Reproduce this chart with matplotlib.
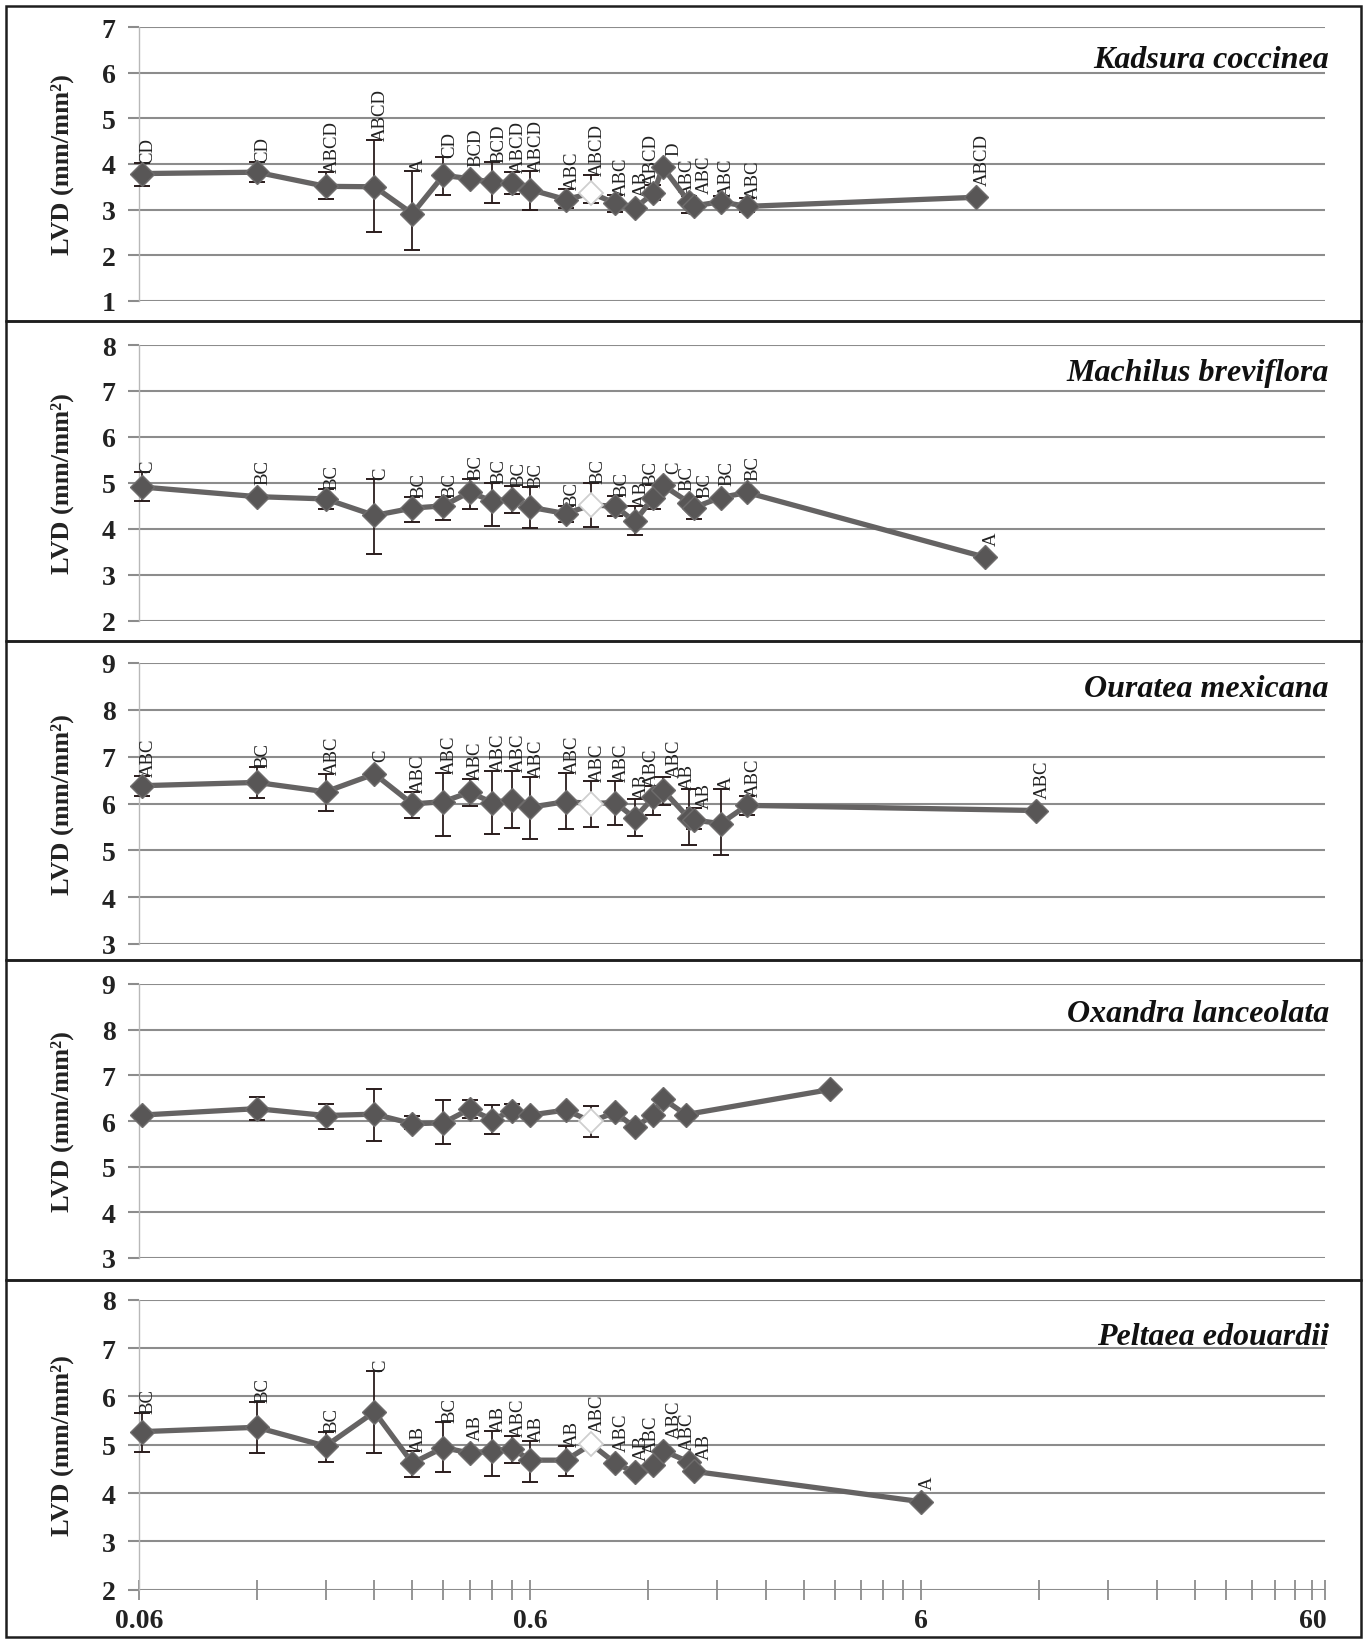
import numpy as np
import matplotlib
matplotlib.use("Agg")
import matplotlib.pyplot as plt
from matplotlib.patches import Rectangle
from matplotlib.ticker import FixedLocator, NullFormatter

W, H = 1364, 1640
nan = np.nan

# ---- data ----
x_kadsura = [0.061, 0.12, 0.18, 0.24, 0.30, 0.36, 0.42, 0.48, 0.54, 0.60, 0.74, 0.86, 0.99, 1.11,
             1.24, 1.31, 1.53, 1.57, 1.84, 2.15, 8.3]
y_kadsura = [3.79, 3.82, 3.51, 3.50, 2.91, 3.75, 3.68, 3.60, 3.59, 3.44, 3.22, 3.36, 3.14, 3.03,
             3.36, 3.93, 3.16, 3.08, 3.17, 3.07, 3.27]
lo_kadsura = [3.51, 3.60, 3.23, 2.50, 2.12, 3.31, nan, 3.14, 3.35, 3.00, 3.04, 3.14, 2.94, nan,
              3.20, nan, 2.93, nan, 3.07, 2.95, nan]
hi_kadsura = [4.02, 4.04, 3.82, 4.53, 3.85, 4.15, nan, 4.05, 3.82, 3.85, 3.45, 3.75, 3.33, nan,
              3.55, nan, 3.30, nan, 3.30, 3.25, nan]
let_kadsura = ["CD", "CD", "ABCD", "ABCD", "A", "CD", "BCD", "BCD", "ABCD", "ABCD", "ABC", "ABCD",
               "ABC", "AB", "ABCD", "D", "ABC", "ABC", "ABC", "ABC", "ABCD"]

x_machilus = [0.061, 0.12, 0.18, 0.24, 0.30, 0.36, 0.42, 0.48, 0.54, 0.60, 0.74, 0.86, 0.99, 1.11,
              1.24, 1.31, 1.53, 1.57, 1.84, 2.15, 8.75]
y_machilus = [4.91, 4.70, 4.65, 4.29, 4.45, 4.50, 4.80, 4.60, 4.65, 4.47, 4.33, 4.52, 4.49, 4.16,
              4.68, 4.95, 4.57, 4.46, 4.68, 4.79, 3.38]
lo_machilus = [4.60, nan, 4.43, 3.46, 4.14, 4.19, 4.43, 4.07, 4.35, 4.01, 4.14, 4.04, 4.28, 3.86,
               4.43, nan, nan, 4.21, nan, nan, nan]
hi_machilus = [5.23, nan, 4.87, 5.08, 4.69, 4.69, 5.08, 5.00, 4.94, 4.90, 4.50, 5.00, 4.72, 4.50,
               4.95, nan, nan, 4.70, nan, nan, nan]
let_machilus = ["C", "BC", "BC", "C", "BC", "BC", "BC", "BC", "BC", "BC", "BC", "BC", "BC", "AB",
                "BC", "C", "BC", "BC", "BC", "BC", "A"]

x_ouratea = [0.061, 0.12, 0.18, 0.24, 0.30, 0.36, 0.42, 0.48, 0.54, 0.60, 0.74, 0.86, 0.99, 1.11,
             1.24, 1.31, 1.53, 1.57, 1.84, 2.15, 11.8]
y_ouratea = [6.38, 6.45, 6.25, 6.63, 5.99, 6.04, 6.24, 6.02, 6.08, 5.92, 6.04, 6.00, 6.02, 5.69,
             6.13, 6.29, 5.68, 5.65, 5.57, 5.96, 5.85]
lo_ouratea = [6.15, 6.11, 5.85, nan, 5.68, 5.30, 5.95, 5.35, 5.47, 5.24, 5.45, 5.49, 5.54, 5.31,
              5.75, 5.96, 5.11, 5.45, 4.90, 5.75, nan]
hi_ouratea = [6.59, 6.77, 6.63, nan, 6.24, 6.65, 6.52, 6.70, 6.70, 6.56, 6.65, 6.47, 6.49, 6.10,
              6.38, 6.56, 6.31, 5.90, 6.31, 6.17, nan]
let_ouratea = ["ABC", "BC", "ABC", "C", "ABC", "ABC", "ABC", "ABC", "ABC", "ABC", "ABC", "ABC",
               "ABC", "AB", "ABC", "ABC", "AB", "AB", "A", "ABC", "ABC"]

x_oxandra = [0.061, 0.12, 0.18, 0.24, 0.30, 0.36, 0.42, 0.48, 0.54, 0.60, 0.74, 0.86, 0.99, 1.11,
             1.24, 1.31, 1.50, 3.51]
y_oxandra = [6.13, 6.27, 6.12, 6.15, 5.94, 5.96, 6.26, 6.03, 6.22, 6.13, 6.24, 5.99, 6.19, 5.86,
             6.14, 6.49, 6.14, 6.69]
lo_oxandra = [nan, 6.03, 5.82, 5.57, 5.82, 5.50, 6.06, 5.72, 6.10, nan, nan, 5.65, nan, nan,
              nan, nan, nan, nan]
hi_oxandra = [nan, 6.52, 6.37, 6.69, 6.10, 6.45, 6.45, 6.34, 6.37, nan, nan, 6.33, nan, nan,
              nan, nan, nan, nan]
let_oxandra = [""] * 18

x_peltaea = [0.061, 0.12, 0.18, 0.24, 0.30, 0.36, 0.42, 0.48, 0.54, 0.60, 0.74, 0.86, 0.99, 1.11,
             1.24, 1.31, 1.53, 1.57, 6.0]
y_peltaea = [5.27, 5.36, 4.97, 5.68, 4.62, 4.94, 4.83, 4.87, 4.92, 4.68, 4.68, 5.01, 4.62, 4.43,
             4.57, 4.88, 4.64, 4.45, 3.82]
lo_peltaea = [4.84, 4.83, 4.65, 4.83, 4.34, 4.43, nan, 4.36, 4.63, 4.23, 4.36, nan, nan, nan,
              nan, nan, nan, nan, nan]
hi_peltaea = [5.66, 5.88, 5.26, 6.53, 4.86, 5.46, nan, 5.29, 5.19, 5.08, 4.98, nan, nan, nan,
              nan, nan, nan, nan, nan]
let_peltaea = ["BC", "BC", "BC", "C", "AB", "BC", "AB", "AB", "ABC", "AB", "AB", "ABC", "ABC", "AB",
               "ABC", "ABC", "ABC", "AB", "A"]

OPEN_IDX = 11  # the hollow diamond in every panel

x_major = [0.06, 0.6, 6, 60]
x_major_labels = ["0.06", "0.6", "6", "60"]
X_MAX = 64.6

# name, x, y, lo, hi, letters, y range, axes top/bottom px, frame top/bottom px, name y px
panels = [
    ("Kadsura coccinea", x_kadsura, y_kadsura, lo_kadsura, hi_kadsura, let_kadsura, (1, 7), (28.3, 301.7), (7, 322), 60),
    ("Machilus breviflora", x_machilus, y_machilus, lo_machilus, hi_machilus, let_machilus, (2, 8), (346, 621.7), (322, 642), 374),
    ("Ouratea mexicana", x_ouratea, y_ouratea, lo_ouratea, hi_ouratea, let_ouratea, (3, 9), (664, 945), (642, 961), 690),
    ("Oxandra lanceolata", x_oxandra, y_oxandra, lo_oxandra, hi_oxandra, let_oxandra, (3, 9), (985, 1259), (961, 1281), 1015),
    ("Peltaea edouardii", x_peltaea, y_peltaea, lo_peltaea, hi_peltaea, let_peltaea, (2, 8), (1300.7, 1590.7), (1281, 1638), 1338),
]

plt.rcParams['font.family'] = ['Liberation Serif', 'DejaVu Serif']
plt.rcParams['font.weight'] = 'bold'

fig = plt.figure(figsize=(W / 100, H / 100), dpi=100)
fig.patch.set_facecolor('white')

grid_col = '#8c8c8c'
line_col = '#656363'
mark_col = '#585656'
err_col = '#2a1c1c'

ax_left, ax_right = 139, 1325
px_per_decade = (ax_right - ax_left) / np.log10(X_MAX / 0.06)

for i, (name, xs, ys, lo, hi, lets, yr, (ytop, ybot), (ftop, fbot), name_y) in enumerate(panels):
    xs = np.array(xs); ys = np.array(ys); lo = np.array(lo); hi = np.array(hi)
    last = i == len(panels) - 1

    # frame around each panel
    fig.add_artist(Rectangle((6 / W, 1 - fbot / H), (1361 - 6) / W, (fbot - ftop) / H,
                             transform=fig.transFigure, fill=False, lw=1.8, ec='#1e1e1e'))

    ax = fig.add_axes([ax_left / W, 1 - ybot / H, (ax_right - ax_left) / W, (ybot - ytop) / H])
    ax.set_xscale('log')
    ax.set_xlim(0.06, X_MAX)
    ax.set_ylim(*yr)
    ax.set_yticks(range(yr[0], yr[1] + 1))
    ax.grid(axis='y', color=grid_col, lw=1.5)
    ax.set_axisbelow(True)
    for s in ['top', 'right', 'bottom']:
        ax.spines[s].set_visible(False)
    ax.spines['left'].set_color('#b8b8b8')
    ax.spines['left'].set_linewidth(1.0)
    ax.tick_params(axis='y', length=8, color=grid_col, width=1.5, labelsize=20, pad=9,
                   labelcolor='#222222')

    if last:
        minors = [b * k for b in (0.06, 0.6, 6) for k in range(2, 10)] + [X_MAX]
        ax.xaxis.set_major_locator(FixedLocator(x_major))
        ax.xaxis.set_minor_locator(FixedLocator(minors))
        ax.set_xticklabels(x_major_labels)
        ax.xaxis.set_minor_formatter(NullFormatter())
        ax.tick_params(axis='x', which='both', direction='inout', length=14, width=1.3,
                       color=grid_col, labelsize=20, pad=6, labelcolor='#222222')
    else:
        ax.tick_params(axis='x', which='both', bottom=False, labelbottom=False)

    m = ~np.isnan(lo)
    ax.errorbar(xs[m], ys[m], yerr=[ys[m] - lo[m], hi[m] - ys[m]], fmt='none', ecolor=err_col,
                elinewidth=1.3, capsize=6, capthick=1.4, zorder=3, clip_on=False)
    ax.plot(xs, ys, color=line_col, lw=3.8, zorder=4, clip_on=False)
    solid = np.arange(len(xs)) != OPEN_IDX
    ax.plot(xs[solid], ys[solid], 'D', ms=12, color=mark_col, mec='#6e6c6c', mew=1,
            zorder=5, clip_on=False)
    ax.plot(xs[OPEN_IDX], ys[OPEN_IDX], 'D', ms=12, mfc='white', mec='#cfcfcf', mew=1.3,
            zorder=5, clip_on=False)

    # letters: when two points sit very close, spread their labels left/right
    xpx = np.log10(xs / 0.06) * px_per_decade
    n = len(xs)
    for k, (xv, yv, hv, t) in enumerate(zip(xs, ys, hi, lets)):
        if not t:
            continue
        dx = 4.5
        if k + 1 < n and xpx[k + 1] - xpx[k] < 12:
            dx = -1.5
        elif k > 0 and xpx[k] - xpx[k - 1] < 12:
            dx = 8
        if np.isnan(hv):
            ax.annotate(t, (xv, yv), xytext=(dx, 9), textcoords='offset points', rotation=90,
                        ha='center', va='bottom', fontsize=13.5, fontweight='normal', color='#222222')
        else:
            ax.annotate(t, (xv, hv), xytext=(dx, 0), textcoords='offset points', rotation=90,
                        ha='center', va='bottom', fontsize=13.5, fontweight='normal', color='#222222')

    fig.text(1329 / W, 1 - name_y / H, name, ha='right', va='center', fontsize=23,
             fontweight='bold', style='italic', color='#111111')
    fig.text(62 / W, 1 - (ytop + ybot) / 2 / H, 'LVD (mm/mm²)', rotation=90, ha='center',
             va='center', fontsize=19, fontweight='bold', color='#222222')

fig.savefig('out.png', dpi=100, facecolor='white')
